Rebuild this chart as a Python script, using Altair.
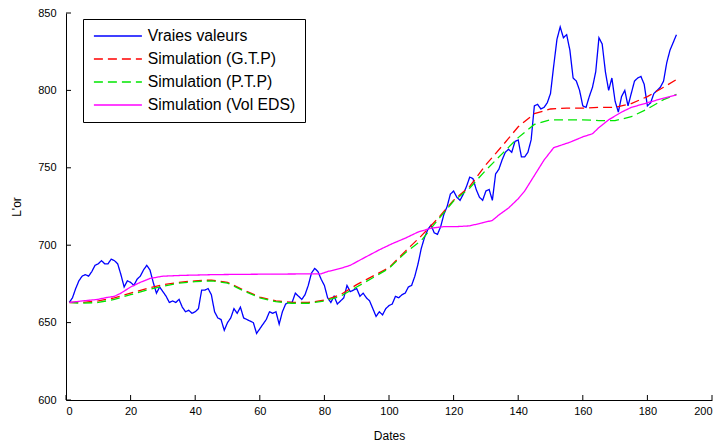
import altair as alt
import pandas as pd

# Observed gold price, one value per date index (1..189)
dates_obs = list(range(1, 190))
vraies_valeurs = [
    663, 666, 672, 677, 680, 681, 680, 683, 687, 688,
    690, 688, 688, 691, 690, 688, 681, 673, 677, 676,
    674, 678, 680, 684, 687, 684, 676, 669, 673, 670,
    667, 663, 664, 663, 665, 660, 657, 658, 656, 657,
    659, 671, 671, 672, 668, 657, 653, 652, 645, 650,
    653, 659, 656, 660, 653, 652, 651, 650, 643, 646,
    649, 652, 657, 656, 657, 649, 657, 662, 663, 663,
    669, 667, 665, 668, 674, 682, 685, 683, 678, 674,
    666, 663, 667, 662, 664, 666, 674, 670, 671, 672,
    667, 669, 666, 664, 659, 654, 657, 655, 659, 661,
    662, 667, 666, 668, 669, 673, 674, 680, 688, 698,
    705, 710, 713, 708, 707, 712, 720, 725, 733, 735,
    731, 729, 733, 738, 744, 743, 736, 731, 729, 735,
    736, 729, 746, 749, 755, 760, 762, 760, 767, 768,
    757, 757, 760, 768, 790, 791, 788, 789, 792, 798,
    816, 833, 841, 834, 836, 826, 808, 806, 800, 790,
    789, 796, 802, 812, 834, 830, 812, 800, 808, 793,
    786, 796, 800, 790, 798, 806, 808, 809, 804, 790,
    792, 798, 800, 802, 806, 818, 826, 831, 836,
]

# Simulated paths (G.T.P and P.T.P share the same date grid)
sim_dates = [1, 5, 10, 15, 20, 25, 30, 35, 40, 45, 50, 55, 60, 65, 70, 75, 80,
             85, 90, 95, 100, 105, 110, 115, 120, 125, 130, 135, 140, 145, 150,
             155, 160, 165, 170, 175, 180, 185, 189]
sim_gtp = [663, 663, 664, 666, 669, 672, 674.5, 676, 677, 677.5, 676, 671,
           666.5, 664, 663, 663, 664.5, 668, 674.5, 680, 685.5, 696, 706, 717,
           729, 738, 752, 764, 776.5, 785, 788, 788.5, 788.5, 789, 789, 791.5,
           796, 802, 807]
sim_ptp = [663, 662.5, 663, 665, 668, 671, 673.5, 675.5, 676.5, 677, 675.5,
           670.5, 666, 663.5, 662.5, 662.5, 664, 667, 673, 679, 685, 695, 703,
           716, 728.5, 737, 748.5, 759, 769.5, 778, 781, 781, 781, 780.5, 780.5,
           783, 788, 794, 797.5]

vol_dates = [1, 5, 10, 12, 15, 17, 20, 23, 26, 30, 36, 46, 56, 70, 79, 81, 85,
             88, 92, 97, 101, 105, 109, 113, 117, 121, 125, 129, 132, 134, 137,
             140, 142, 145, 148, 151, 156, 160, 163, 165, 168, 172, 175, 180,
             185, 189]
sim_vol_eds = [663, 664, 665, 666, 667, 669, 673, 676, 678.5, 680, 680.5, 681,
               681.2, 681.4, 681.5, 683, 685, 687, 691.5, 697, 701, 704.5,
               708.5, 711, 712, 712, 712.5, 714.5, 716, 719.5, 724, 730, 735,
               745, 755, 763, 766.5, 770, 772, 776, 781, 786, 789, 792, 795, 797]

series_names = ["Vraies valeurs", "Simulation (G.T.P)",
                "Simulation (P.T.P)", "Simulation (Vol EDS)"]
series_colors = ["#0000ff", "#ff0000", "#00e600", "#ff00ff"]
series_dashes = [[1, 0], [9, 5], [9, 5], [1, 0]]

x_ticks = [0, 20, 40, 60, 80, 100, 120, 140, 160, 180, 200]
y_ticks = [600, 650, 700, 750, 800, 850]

rows = []
for name, xs, ys in [
    (series_names[0], dates_obs, vraies_valeurs),
    (series_names[1], sim_dates, sim_gtp),
    (series_names[2], sim_dates, sim_ptp),
    (series_names[3], vol_dates, sim_vol_eds),
]:
    for i, (t, v) in enumerate(zip(xs, ys)):
        rows.append({"serie": name, "t": t, "valeur": v, "ordre": i})
df = pd.DataFrame(rows)

W, H = 646, 387
x_scale = alt.Scale(domain=[0, 200], nice=False, zero=False)
y_scale = alt.Scale(domain=[600, 850], nice=False, zero=False)
x_axis = alt.Axis(values=x_ticks, ticks=False, title="Dates", labelPadding=5,
                  titlePadding=14, grid=False, format="d")
y_axis = alt.Axis(values=y_ticks, ticks=False, title="L'or", labelPadding=10,
                  titlePadding=14, grid=False, format="d")

lines = alt.Chart(df).mark_line(strokeWidth=1.3, clip=True).encode(
    x=alt.X("t:Q", scale=x_scale, axis=x_axis),
    y=alt.Y("valeur:Q", scale=y_scale, axis=y_axis),
    color=alt.Color("serie:N",
                    scale=alt.Scale(domain=series_names, range=series_colors),
                    legend=alt.Legend(title=None)),
    strokeDash=alt.StrokeDash("serie:N",
                              scale=alt.Scale(domain=series_names,
                                              range=series_dashes),
                              legend=alt.Legend(title=None)),
    order="ordre:Q",
    detail="serie:N",
)

# Inward-pointing tick marks, MATLAB style
x_tick_df = pd.DataFrame({"t": x_ticks})
y_tick_df = pd.DataFrame({"valeur": y_ticks})
x_tick_marks = alt.Chart(x_tick_df).mark_rule(color="black", strokeWidth=1).encode(
    x=alt.X("t:Q", scale=x_scale, axis=x_axis),
    y=alt.value(H),
    y2=alt.value(H - 5),
)
y_tick_marks = alt.Chart(y_tick_df).mark_rule(color="black", strokeWidth=1).encode(
    y=alt.Y("valeur:Q", scale=y_scale, axis=y_axis),
    x=alt.value(0),
    x2=alt.value(5),
)

chart = alt.layer(lines, x_tick_marks, y_tick_marks).properties(
    width=W,
    height=H,
    autosize=alt.AutoSizeParams(type="none"),
    padding={"left": 66, "top": 13, "right": 12, "bottom": 44},
    background="white",
).configure_view(
    stroke=None,
).configure_axis(
    domainColor="black",
    domainWidth=1,
    labelColor="black",
    labelFont="Liberation Sans",
    labelFontSize=11,
    titleFont="Liberation Sans",
    titleFontSize=12,
    titleFontWeight="normal",
    titleColor="black",
).configure_legend(
    orient="none",
    legendX=17,
    legendY=6,
    strokeColor="black",
    fillColor="white",
    padding=9,
    symbolType="M-1,0H7",
    symbolSize=144,
    symbolStrokeWidth=1.5,
    labelFont="Liberation Sans",
    labelFontSize=15.8,
    labelColor="black",
    labelOffset=40,
    rowPadding=6,
    labelLimit=300,
)

chart.save("out.html", embed_options={"renderer": "svg", "actions": False})
